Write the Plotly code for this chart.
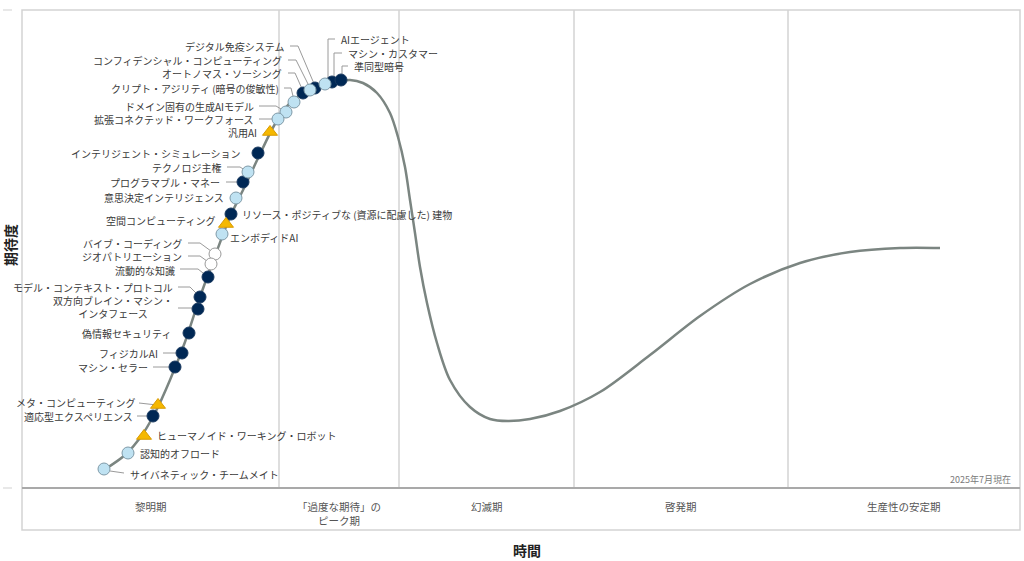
import plotly.graph_objects as go

# ---------------- data ----------------
# Hype-cycle curve (time position, expectation position; screen units)
curve_t = [100, 110, 125, 140, 155, 170, 185, 200, 215, 230, 245, 260, 275, 290, 305, 320, 335, 350,
           363, 377, 390, 398, 405, 410, 415, 420, 427, 437, 450, 470, 490, 508, 530,
           560, 600, 650, 700, 750, 800, 850, 900, 940]
curve_e = [472, 466, 455, 438, 413, 380, 342, 297, 256, 217, 186, 154, 124, 103, 92, 86, 82, 80,
           83, 93, 113, 137, 167, 200, 233, 267, 303, 343, 380, 407, 419, 421, 419,
           411, 392, 355, 316, 284, 263, 252, 248, 248]

tech_names = [
    "デジタル免疫システム", "コンフィデンシャル・コンピューティング", "オートノマス・ソーシング",
    "クリプト・アジリティ (暗号の俊敏性)", "ドメイン固有の生成AIモデル", "拡張コネクテッド・ワークフォース",
    "汎用AI", "インテリジェント・シミュレーション", "テクノロジ主権", "プログラマブル・マネー",
    "意思決定インテリジェンス", "空間コンピューティング", "バイブ・コーディング", "ジオパトリエーション",
    "流動的な知識", "モデル・コンテキスト・プロトコル", "双方向ブレイン・マシン・<br>インタフェース",
    "偽情報セキュリティ", "フィジカルAI", "マシン・セラー", "メタ・コンピューティング",
    "適応型エクスペリエンス", "AIエージェント", "マシン・カスタマー", "準同型暗号",
    "リソース・ポジティブな (資源に配慮した) 建物", "エンボディドAI",
    "ヒューマノイド・ワーキング・ロボット", "認知的オフロード", "サイバネティック・チームメイト",
]
tech_time = [315, 310, 303, 294, 286, 278, 270, 258, 248, 243, 236, 226, 215, 211, 208, 200, 198,
             189, 182, 175, 158, 153, 325, 332, 341, 231, 222, 144, 128, 104]
tech_expect = [88, 90, 93, 102, 112, 119, 132, 153, 172, 182, 198, 224, 254, 264, 277, 297, 309,
               333, 353, 367, 405, 416, 84, 82, 80, 214, 234, 436, 453, 469]
# years to plateau category
tech_class = ["2-5", "<2", "2-5", "<2", "<2", "<2", "obs", "2-5", "<2", "2-5", "<2", "obs",
              "none", "none", "2-5", "2-5", "2-5", "2-5", "2-5", "2-5", "obs", "2-5",
              "<2", "2-5", "2-5", "2-5", "<2", "obs", "<2", "<2"]

phase_names = ["黎明期", "「過度な期待」の<br>ピーク期", "幻滅期", "啓発期", "生産性の安定期"]
phase_bounds = [22, 279, 399, 574, 788, 1020]
as_of = "2025年7月現在"
x_title = "時間"
y_title = "期待度"

# ---------------- layout helpers (label placement) ----------------
# (anchor side, label x, label y, leader polyline)
label_layout = [
    ("right", 287, 46, [(290, 46), (298, 46), (315, 86)]),
    ("right", 284, 60, [(288, 60), (296, 60), (310, 88)]),
    ("right", 284, 73, [(288, 73), (295, 73), (303, 91)]),
    ("right", 281, 88, [(284, 88), (291, 88), (294, 100)]),
    ("right", 256, 106, [(259, 106), (276, 106), (286, 112)]),
    ("right", 256, 119, [(259, 119), (278, 119)]),
    ("right", 259, 132, None),
    ("right", 243, 153, None),
    ("right", 223, 167, [(227, 167), (240, 167), (248, 172)]),
    ("right", 222, 182, [(226, 182), (243, 182)]),
    ("right", 226, 197, None),
    ("right", 217, 220, None),
    ("right", 184, 243, [(188, 243), (200, 243), (215, 254)]),
    ("right", 184, 256, [(188, 256), (200, 256), (211, 264)]),
    ("right", 177, 270, [(180, 269), (198, 269), (208, 277)]),
    ("right", 175, 287, [(178, 287), (190, 287), (200, 297)]),
    ("right", 175, 307, [(178, 308), (196, 308), (198, 309)]),
    ("right", 173, 333, None),
    ("right", 160, 353, [(163, 353), (182, 353)]),
    ("right", 150, 367, [(153, 367), (175, 367)]),
    ("right", 137, 402, [(139, 403), (157, 405)]),
    ("right", 135, 416, [(137, 416), (153, 416)]),
    ("left", 339, 39, [(328, 80), (328, 39), (335, 39)]),
    ("left", 346, 53, [(334, 78), (334, 53), (342, 53)]),
    ("left", 352, 66, [(342, 76), (342, 66), (348, 66)]),
    ("left", 240, 214, None),
    ("left", 228, 237, None),
    ("left", 155, 435, None),
    ("left", 138, 453, None),
    ("left", 128, 474, [(110, 471), (124, 473)]),
]

marker_style = {
    "2-5": dict(symbol="circle", size=12, color="#002855", line=dict(color="#1a3a60", width=1)),
    "<2": dict(symbol="circle", size=12, color="#bfe2f2", line=dict(color="#7f9aa8", width=1)),
    "none": dict(symbol="circle", size=12, color="#ffffff", line=dict(color="#9a9a9a", width=1)),
    "obs": dict(symbol="triangle-up", size=13, color="#f5b800", line=dict(color="#d99a00", width=1)),
}

FONT = "Noto Sans CJK JP, Noto Sans, sans-serif"
TXT = "#3a3a3a"
LABEL_SIZE = 10

fig = go.Figure()

# frame
frame_col = "#d3d3d3"
shapes = []
shapes.append(dict(type="rect", x0=22, x1=1020, y0=10, y1=530, line=dict(color=frame_col, width=1.5)))
for b in phase_bounds[1:-1]:
    shapes.append(dict(type="line", x0=b, x1=b, y0=10, y1=488, line=dict(color=frame_col, width=1.5)))
shapes.append(dict(type="line", x0=22, x1=1020, y0=488, y1=488, line=dict(color="#a9a9a9", width=2)))
shapes.append(dict(type="line", x0=3, x1=12, y0=10, y1=10, line=dict(color="#e0e0e0", width=1.5)))
shapes.append(dict(type="line", x0=3, x1=12, y0=488, y1=488, line=dict(color="#e0e0e0", width=1.5)))
for s in shapes:
    s.update(xref="x", yref="y", layer="below")

# curve
fig.add_trace(go.Scatter(x=curve_t, y=curve_e, mode="lines",
                         line=dict(color="#7b8581", width=2.5, shape="spline", smoothing=0.9),
                         hoverinfo="skip", showlegend=False))

# leader lines
lx, ly = [], []
for side, tx, ty, leader in label_layout:
    if leader:
        for (a, b) in leader:
            lx.append(a)
            ly.append(b)
        lx.append(None)
        ly.append(None)
fig.add_trace(go.Scatter(x=lx, y=ly, mode="lines", line=dict(color="#9a9a9a", width=1),
                         hoverinfo="skip", showlegend=False))

# markers per class
for cls, style in marker_style.items():
    idx = [i for i, c in enumerate(tech_class) if c == cls]
    fig.add_trace(go.Scatter(
        x=[tech_time[i] for i in idx], y=[tech_expect[i] for i in idx], mode="markers",
        marker=dict(symbol=style["symbol"], size=style["size"], color=style["color"], line=style["line"]),
        text=[tech_names[i] for i in idx], hoverinfo="text", showlegend=False))

annotations = []
for name, (side, tx, ty, leader) in zip(tech_names, label_layout):
    annotations.append(dict(x=tx, y=ty, text=name, showarrow=False, xanchor=side, yanchor="middle",
                            font=dict(family=FONT, size=LABEL_SIZE, color=TXT)))

for i, p in enumerate(phase_names):
    cx = (phase_bounds[i] + phase_bounds[i + 1]) / 2
    annotations.append(dict(x=cx, y=497, text=p, showarrow=False, xanchor="center", yanchor="top",
                            font=dict(family=FONT, size=10.5, color="#555555")))

annotations.append(dict(x=1013, y=479, text=as_of, showarrow=False, xanchor="right", yanchor="middle",
                        font=dict(family=FONT, size=9, color="#7a7a7a")))
annotations.append(dict(x=527, y=550, text="<b>" + x_title + "</b>", showarrow=False, xanchor="center",
                        yanchor="middle", font=dict(family=FONT, size=14, color="#222222")))
annotations.append(dict(x=10, y=245, text="<b>" + y_title + "</b>", showarrow=False, xanchor="center",
                        yanchor="middle", textangle=-90, font=dict(family=FONT, size=14, color="#222222")))

fig.update_layout(
    width=1024, height=561, margin=dict(l=0, r=0, t=0, b=0),
    paper_bgcolor="white", plot_bgcolor="white",
    xaxis=dict(range=[0, 1024], visible=False, fixedrange=True),
    yaxis=dict(range=[561, 0], visible=False, fixedrange=True),
    shapes=shapes, annotations=annotations, showlegend=False,
)

fig.write_html("out.html")
